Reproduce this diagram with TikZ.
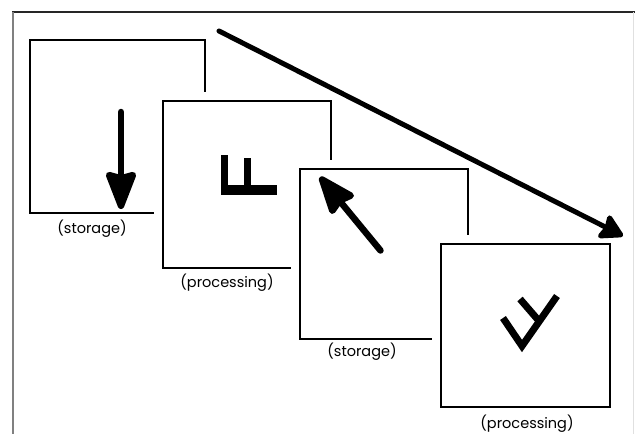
\documentclass[tikz,border=0pt]{standalone}
\usepackage{fontspec}
\setmainfont{Poppins}
\usetikzlibrary{arrows.meta}

\begin{document}
\begin{tikzpicture}[
    x=1pt, y=-1pt,
    panel/.style={rectangle, draw, line width=2pt, fill=white, inner sep=0pt, preaction={draw=white, line width=18pt}},
    caption/.style={font=\fontsize{14.5}{17}\selectfont, inner sep=0pt},
    glyph/.style={line width=7pt},
    pointer/.style={-{Stealth[length=44pt, width=33pt, inset=4pt, round]}, line width=6.5pt, line cap=round},
    flow/.style={-{Stealth[length=26pt, width=29pt, inset=3pt, round]}, line width=5pt, line cap=round}
]
\useasboundingbox (0,0) rectangle (635,434);

% frame
\draw[black!85, line width=1.5pt] (12,12) -- (635,12);
\draw[black!50, line width=2pt] (12.5,12) -- (12.5,434);
\draw[black!12, line width=1pt] (633,12) -- (633,434);

% panels, each one laid over the one before
\node[panel, minimum width=175pt, minimum height=173pt] (store1) at (117.5,126.5) {};
\draw[pointer] (121,112) -- (121,209);

\node[panel, minimum width=168pt, minimum height=167pt] (proc1) at (247,184.5) {};
\fill (220.5,155) rectangle (227.5,195);
\fill (243.5,158) rectangle (250.5,195);
\fill (220.5,185) rectangle (277,195);

\node[panel, minimum width=168pt, minimum height=170pt] (store2) at (384,254) {};
\draw[pointer] (380.5,250.5) -- (320,177);

\node[panel, minimum width=169pt, minimum height=163pt] (proc2) at (525.5,325.5) {};
\draw[glyph] (503,318) -- (522,346) -- (557,296);
\draw[glyph] (520,299) -- (539,321);

% captions
\node[caption] (cap1) at (92,229) {(storage)};
\node[caption] (cap2) at (227,283) {(processing)};
\node[caption] (cap3) at (362,352) {(storage)};
\node[caption] (cap4) at (527,424) {(processing)};

% overall direction
\coordinate (start) at (219,31);
\coordinate (end) at (623,236);
\draw[flow] (start) -- (end);

\end{tikzpicture}
\end{document}
